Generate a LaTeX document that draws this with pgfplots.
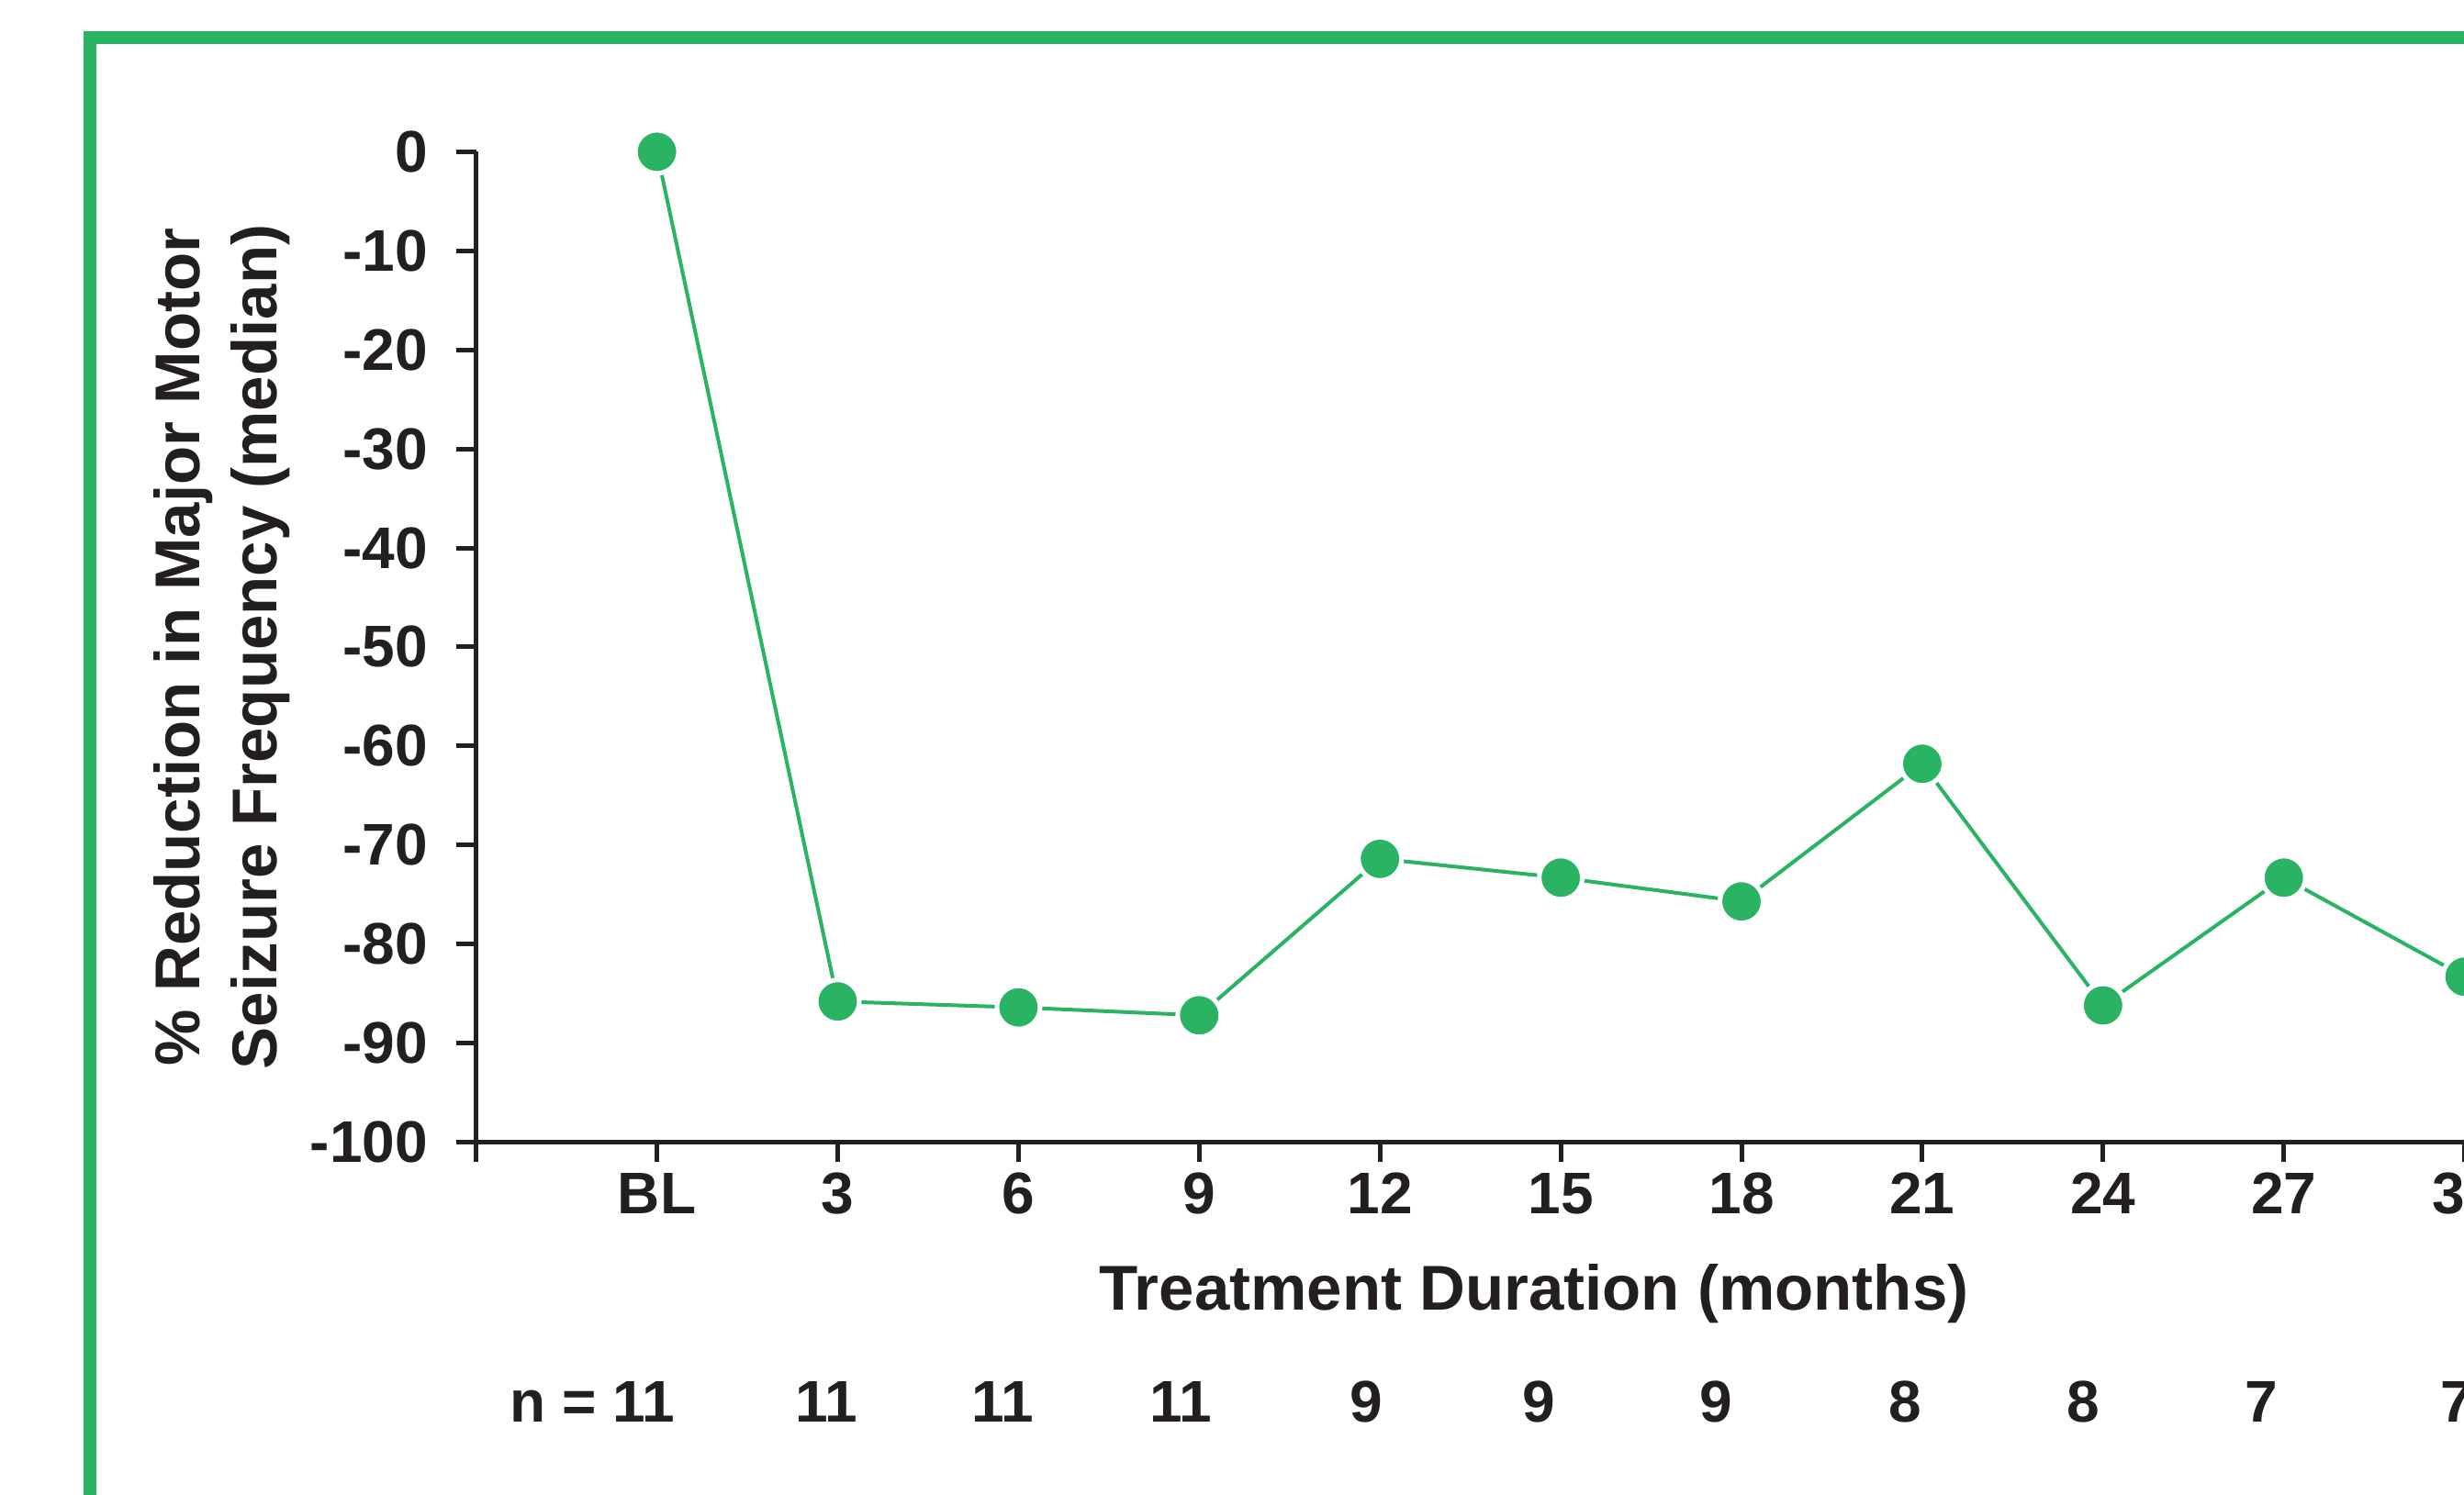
\documentclass[border=0pt]{standalone}
\usepackage{pgfplots}
\pgfplotsset{compat=1.18}
\usepackage{fontspec}
\setmainfont{Liberation Sans}
\definecolor{mygreen}{RGB}{41,179,98}
\definecolor{myblack}{RGB}{35,31,32}
\newcommand{\tickfont}{\fontsize{16}{19}\selectfont\bfseries}
\newcommand{\labfont}{\fontsize{17.25}{21}\selectfont\bfseries}
\begin{document}
\begin{tikzpicture}
\path[use as bounding box] (0,0) rectangle (671pt,-407pt);
\clip (0,0) rectangle (671pt,-407pt);
\draw[mygreen, line width=3.5pt] (24.425pt,-10.125pt) rectangle (720pt,-450pt);
\begin{axis}[
  at={(129.675pt,-311.1pt)}, anchor=south west,
  scale only axis, width=590.7pt, height=269.75pt,
  xmin=-3, xmax=33, ymin=-100, ymax=0,
  clip=false,
  axis x line=bottom, axis y line=left,
  axis line style={myblack, line width=1.25pt, -},
  tick align=outside, major tick length=5.5pt,
  tick style={myblack, line width=1.25pt},
  xtick={-3,0,3,...,30},
  xticklabels={,BL,3,6,9,12,15,18,21,24,27,30},
  ytick={-100,-90,...,0},
  yticklabels={-100,-90,-80,-70,-60,-50,-40,-30,-20,-10,0},
  ticklabel style={font=\tickfont, text=myblack},
  yticklabel style={anchor=east, inner sep=0pt, xshift=-7.5pt},
  xticklabel style={anchor=north, inner sep=0pt, yshift=-2.75pt},
  xlabel={Treatment Duration (months)},
  ylabel={\% Reduction in Major Motor\\Seizure Frequency (median)},
  xlabel style={at={(axis description cs:0.4877,-0.1699)}, anchor=base, font=\labfont, text=myblack},
  ylabel style={at={(axis description cs:-0.0854,0.5)}, anchor=south, rotate=0, align=center, inner sep=0pt, font=\labfont, text=myblack},
]
\addplot[mygreen, line width=1pt, mark=*, mark size=5.875pt,
  mark options={fill=mygreen, draw=white, line width=1.25pt}]
  coordinates {(0,0) (3,-85.8) (6,-86.4) (9,-87.2) (12,-71.4) (15,-73.3)
               (18,-75.7) (21,-61.8) (24,-86.2) (27,-73.3) (30,-83.3)};
\end{axis}
\begin{scope}[every node/.style={font=\tickfont, text=myblack, inner sep=0pt}]
\node[anchor=base east] at (184pt,-387.25pt) {n = 11};
\node[anchor=base] at (225pt,-387.25pt) {11};
\node[anchor=base] at (273pt,-387.25pt) {11};
\node[anchor=base] at (321.5pt,-387.25pt) {11};
\node[anchor=base] at (372pt,-387.25pt) {9};
\node[anchor=base] at (419pt,-387.25pt) {9};
\node[anchor=base] at (467.25pt,-387.25pt) {9};
\node[anchor=base] at (518.75pt,-387.25pt) {8};
\node[anchor=base] at (567.25pt,-387.25pt) {8};
\node[anchor=base] at (615.75pt,-387.25pt) {7};
\node[anchor=base] at (669pt,-387.25pt) {7};
\end{scope}
\end{tikzpicture}
\end{document}
